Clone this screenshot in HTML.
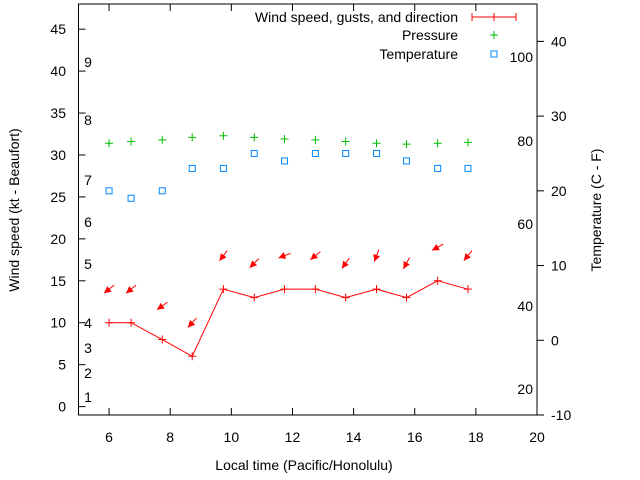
<!DOCTYPE html>
<html><head><meta charset="utf-8"><style>
body{margin:0;background:#fff}
svg{display:block;font-family:"Liberation Sans",sans-serif;font-size:14px}
</style></head><body>
<svg id="c" width="640" height="480" viewBox="0 0 640 480"></svg>
<script>
const hours=[6,6.72,7.74,8.72,9.74,10.75,11.74,12.75,13.74,14.75,15.73,16.75,17.74];
const windSpeed=[10,10,8,6,14,13,14,14,13,14,13,15,14];
const gusts=[14,14,12,10,18,17.1,18,18,17.1,18,17.1,19,18];
const windDir=[51,51,54,42,37,45,69,51,35,21,29,61,39];
const pressure=[31.4,31.6,31.8,32.1,32.3,32.1,31.9,31.8,31.6,31.4,31.3,31.4,31.5];
const tempC=[20,19,20,23,23,25,24,25,25,25,24,23,23];
const xTicks=[6,8,10,12,14,16,18,20];
const yTicks=[0,5,10,15,20,25,30,35,40,45];
const y2Ticks=[-10,0,10,20,30,40];
const beaufort=[[1,397],[2,373],[3,348],[4,323],[5,264],[6,222],[7,180],[8,120],[9,62]];
const fahr=[[100,57],[80,141],[60,224],[40,306],[20,389]];

const L=78.5,R=537,T=4,B=415;
const X=v=>L+(v-5)/15*(R-L);
const Y=v=>B-(v+1)/49*(B-T);
const Y2=v=>B-(v+10)/55*(B-T);
const svg=document.getElementById('c');
const NS='http://www.w3.org/2000/svg';
function mk(tag,attrs,parent){const e=document.createElementNS(NS,tag);for(const k in attrs)e.setAttribute(k,attrs[k]);(parent||svg).appendChild(e);return e;}
function txt(x,y,s,anchor,parent){const t=mk('text',{x:x,y:y,'text-anchor':anchor||'middle',fill:'#000'},parent);t.textContent=s;return t;}

// frame
const fr=mk('rect',{x:L,y:T,width:R-L,height:B-T,fill:'none',stroke:'#000','stroke-width':1});



xTicks.forEach(v=>{const x=X(v);
 mk('line',{x1:x,y1:B,x2:x,y2:B-7,stroke:'#000'});
 mk('line',{x1:x,y1:T,x2:x,y2:T+7,stroke:'#000'});
 const t=txt(x,442,String(v));
 
 
});
yTicks.forEach(v=>{const y=Y(v);
 mk('line',{x1:L,y1:y,x2:L+7,y2:y,stroke:'#000'});
 const t=txt(66,y+5,String(v),'end');
 
 
});
y2Ticks.forEach(v=>{const y=Y2(v);
 mk('line',{x1:R,y1:y,x2:R+7,y2:y,stroke:'#000'});
 const t=txt(551,y+5,String(v),'start');
 
 
});
beaufort.forEach(b=>{const t=txt(88,b[1]+5,String(b[0]));
 
 });
fahr.forEach(b=>{const t=txt(533,b[1]+5,String(b[0]),'end');
 
 });

// axis titles
let t=txt(304,470,'Local time (Pacific/Honolulu)');


t=txt(0,0,'Wind speed (kt - Beaufort)');
t.setAttribute('transform','translate(19,210) rotate(-90)');


t=txt(0,0,'Temperature (C - F)');
t.setAttribute('transform','translate(601,210) rotate(-90)');



// wind line
const pts=hours.map((h,i)=>X(h)+','+Y(windSpeed[i])).join(' ');
const wl=mk('polyline',{points:pts,fill:'none',stroke:'#f00','stroke-width':1});


hours.forEach((h,i)=>{const x=X(h),y=Y(windSpeed[i]);
 const g=mk('path',{d:`M${x-4},${y}h8M${x},${y-4}v8`,stroke:'#f00'});
 
 
});
// arrows
hours.forEach((h,i)=>{const cx=X(h),cy=Y(gusts[i]);const a=windDir[i]*Math.PI/180;
 const ux=Math.sin(a),uy=-Math.cos(a),len=13;
 const tx=cx+ux*len/2,ty=cy+uy*len/2,hx=cx-ux*len/2,hy=cy-uy*len/2;
 const px=-uy,py=ux;
 const g=mk('g',{});
 
 
 mk('line',{x1:tx,y1:ty,x2:hx,y2:hy,stroke:'#f00','stroke-width':1},g);
 const bx=hx+ux*7,by=hy+uy*7;
 mk('polygon',{points:`${hx},${hy} ${bx+px*3.5},${by+py*3.5} ${bx-px*3.5},${by-py*3.5}`,fill:'#f00'},g);
});
// pressure
hours.forEach((h,i)=>{const x=X(h),y=Y(pressure[i]);
 const g=mk('path',{d:`M${x-4},${y}h8M${x},${y-4}v8`,stroke:'#0b0'});
 
 
});
// temperature
hours.forEach((h,i)=>{const x=X(h),y=Y2(tempC[i]);
 const r=mk('rect',{x:x-3,y:y-3,width:6,height:6,fill:'none',stroke:'#08f'});
 
 
});
// legend
const lg=mk('g',{});


let e=txt(458,22,'Wind speed, gusts, and direction','end',lg);


mk('path',{d:'M472,17h44M472,13v8M516,13v8M494,13v8',stroke:'#f00',fill:'none'},lg);
e=txt(458,40,'Pressure','end',lg);


mk('path',{d:'M490,35h8M494,31v8',stroke:'#0b0'},lg);
e=txt(458,59,'Temperature','end',lg);


mk('rect',{x:491,y:51,width:6,height:6,fill:'none',stroke:'#08f'},lg);
</script>
</body></html>
